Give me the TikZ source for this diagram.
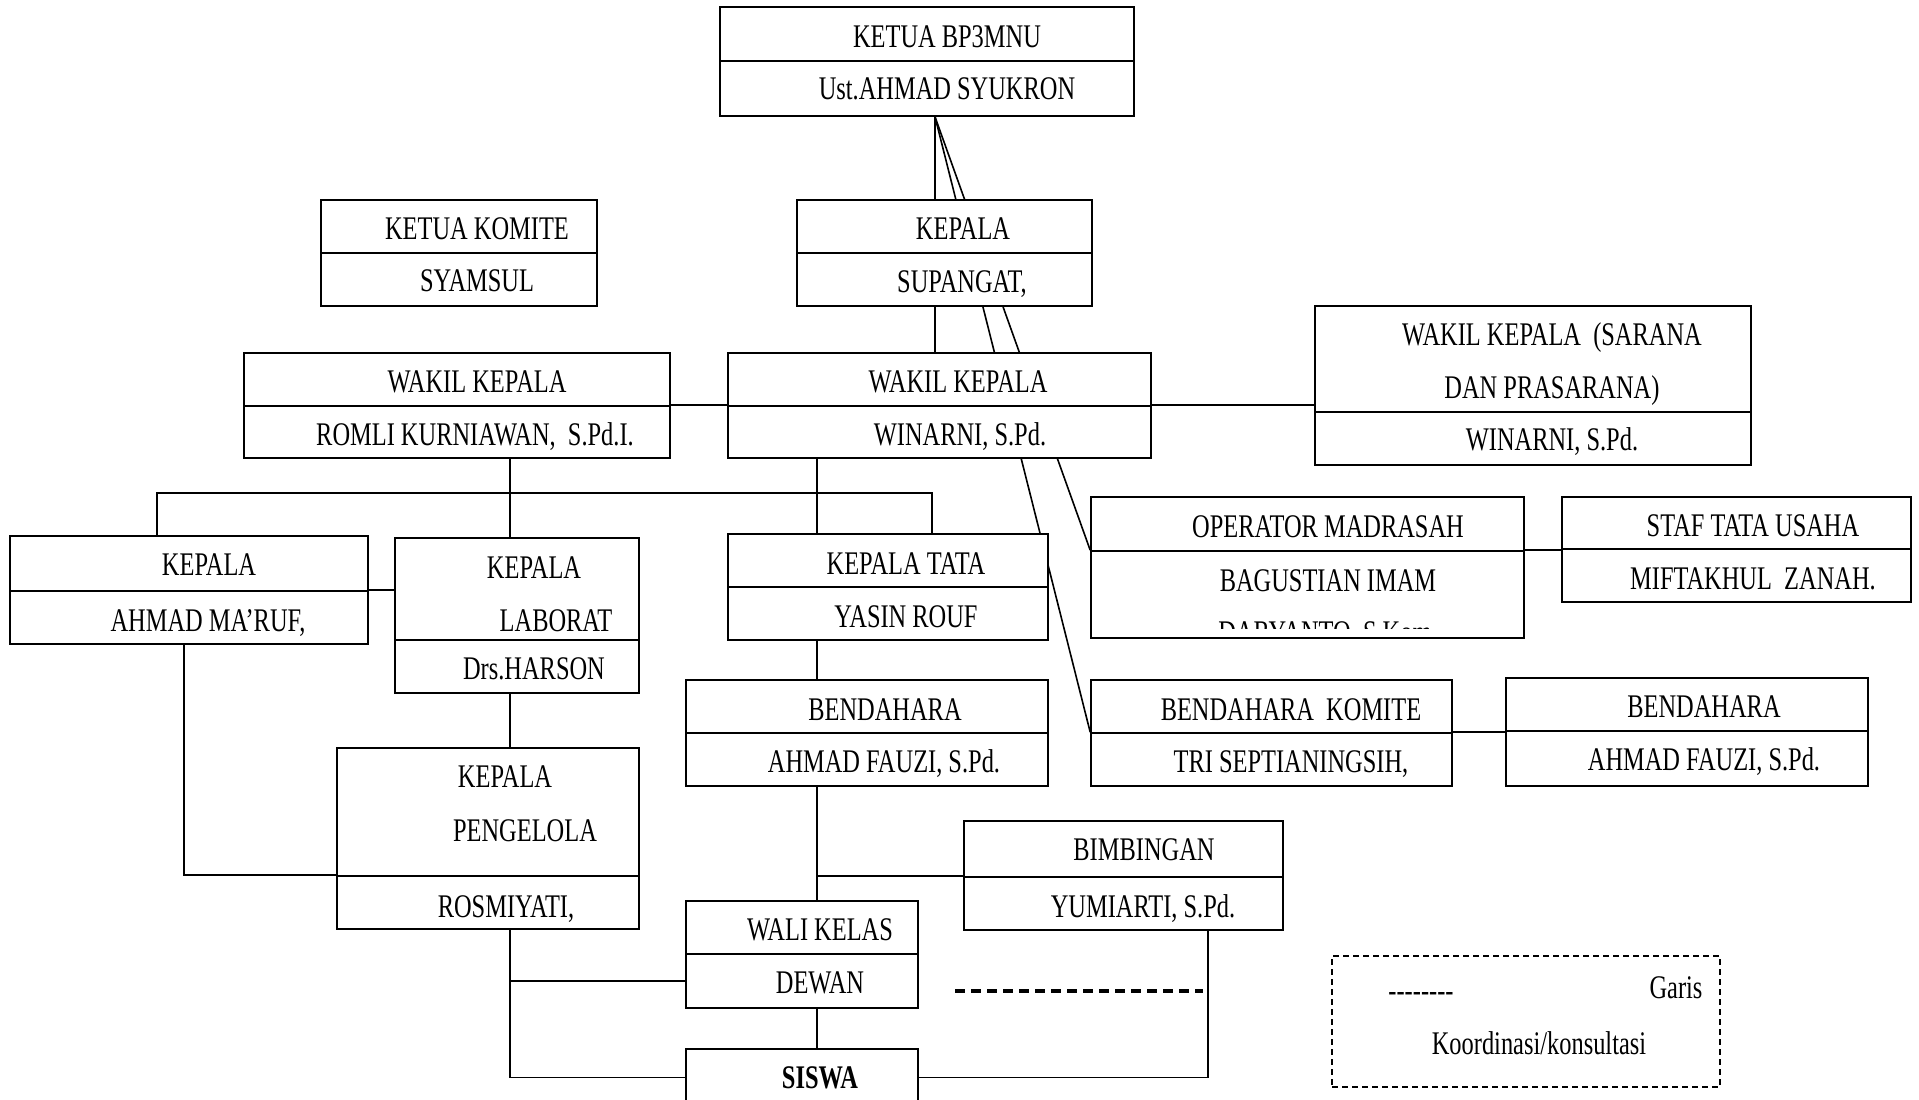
\documentclass[tikz,border=0pt]{standalone}
\usepackage{fontspec}
\setmainfont{Liberation Serif}[FakeStretch=0.74]
\usetikzlibrary{fit,backgrounds}

% one framed cell of a box, by its corners
\newcommand{\cell}[5]{\node[cell,fit={(#2,#3) (#4,#5)}] (#1) {};}

\begin{document}
\begin{tikzpicture}[x=0.5pt,y=-0.5pt,
  cell/.style={draw,fill=white,line width=0.8pt,inner sep=0pt},
  lbl/.style={inner sep=0pt,text height=11pt,text depth=0pt,font=\fontsize{16.5}{19}\selectfont},
  conn/.style={line width=0.8pt}]
\useasboundingbox (0,0) rectangle (1919,1099);

% boxes
\cell{bp3-t}{720}{7}{1134}{61}
\cell{bp3-b}{720}{61}{1134}{116}
\cell{komite-t}{321}{200}{597}{253}
\cell{komite-b}{321}{253}{597}{306}
\cell{kepala-t}{797}{200}{1092}{253}
\cell{kepala-b}{797}{253}{1092}{306}
\cell{wakkiri-t}{244}{353}{670}{406}
\cell{wakkiri-b}{244}{406}{670}{458}
\cell{wakil-t}{728}{353}{1151}{406}
\cell{wakil-b}{728}{406}{1151}{458}
\cell{sarana-t}{1315}{306}{1751}{412}
\cell{sarana-b}{1315}{412}{1751}{465}
\cell{maruf-t}{10}{536}{368}{591}
\cell{maruf-b}{10}{591}{368}{644}
\cell{lab-t}{395}{538}{639}{640}
\cell{lab-b}{395}{640}{639}{693}
\cell{tata-t}{728}{534}{1048}{587}
\cell{tata-b}{728}{587}{1048}{640}
\cell{operator-t}{1091}{497}{1524}{551}
\cell{operator-b}{1091}{551}{1524}{638}
\cell{staf-t}{1562}{497}{1911}{549}
\cell{staf-b}{1562}{549}{1911}{602}
\cell{bendahara-t}{686}{680}{1048}{733}
\cell{bendahara-b}{686}{733}{1048}{786}
\cell{bkomite-t}{1091}{680}{1452}{733}
\cell{bkomite-b}{1091}{733}{1452}{786}
\cell{bendkanan-t}{1506}{678}{1868}{731}
\cell{bendkanan-b}{1506}{731}{1868}{786}
\cell{pengelola-t}{337}{748}{639}{876}
\cell{pengelola-b}{337}{876}{639}{929}
\cell{bimbingan-t}{964}{821}{1283}{877}
\cell{bimbingan-b}{964}{877}{1283}{930}
\cell{wali-t}{686}{901}{918}{954}
\cell{wali-b}{686}{954}{918}{1008}
\cell{siswa}{686}{1049}{918}{1106}

% texts
\node[lbl] (t-bp3) at (947,36) {KETUA BP3MNU};
\node[lbl] (t-syukron) at (947,88) {Ust.AHMAD SYUKRON};
\node[lbl] (t-komite) at (477,228) {KETUA KOMITE};
\node[lbl] (t-syamsul) at (477,280) {SYAMSUL};
\node[lbl] (t-kepala) at (963,228) {KEPALA};
\node[lbl] (t-supangat) at (962,281) {SUPANGAT,};
\node[lbl] (t-wakkiri) at (477,381) {WAKIL KEPALA};
\node[lbl] (t-romli) at (475,434) {ROMLI KURNIAWAN,~ S.Pd.I.};
\node[lbl] (t-wakil) at (958,381) {WAKIL KEPALA};
\node[lbl] (t-winarni) at (960,434) {WINARNI, S.Pd.};
\node[lbl] (t-sarana1) at (1552,334) {WAKIL KEPALA~ (SARANA};
\node[lbl] (t-sarana2) at (1552,387) {DAN PRASARANA)};
\node[lbl] (t-winarni2) at (1552,439) {WINARNI, S.Pd.};
\node[lbl] (t-maruf1) at (209,564) {KEPALA};
\node[lbl] (t-maruf2) at (208,620) {AHMAD MA'RUF,};
\node[lbl] (t-lab1) at (534,567) {KEPALA};
\node[lbl] (t-lab2) at (556,620) {LABORAT};
\node[lbl] (t-harson) at (534,668) {Drs.HARSON};
\node[lbl] (t-tata) at (906,563) {KEPALA TATA};
\node[lbl] (t-yasin) at (906,616) {YASIN ROUF};
\node[lbl] (t-operator) at (1328,526) {OPERATOR MADRASAH};
\node[lbl] (t-bagus) at (1328,580) {BAGUSTIAN IMAM};
\begin{scope}
\clip (1091,600) rectangle (1524,628);
\node[lbl] (t-daryanto) at (1328,632) {DARYANTO, S.Kom.};
\end{scope}
\node[lbl] (t-staf) at (1753,525) {STAF TATA USAHA};
\node[lbl] (t-miftakhul) at (1753,578) {MIFTAKHUL~ ZANAH.};
\node[lbl] (t-bend) at (885,709) {BENDAHARA};
\node[lbl] (t-fauzi) at (884,761) {AHMAD FAUZI, S.Pd.};
\node[lbl] (t-bkomite) at (1291,709) {BENDAHARA~ KOMITE};
\node[lbl] (t-tri) at (1291,761) {TRI SEPTIANINGSIH,};
\node[lbl] (t-bendkanan) at (1704,706) {BENDAHARA};
\node[lbl] (t-fauzi2) at (1704,759) {AHMAD FAUZI, S.Pd.};
\node[lbl] (t-peng1) at (505,776) {KEPALA};
\node[lbl] (t-peng2) at (525,830) {PENGELOLA};
\node[lbl] (t-rosmiyati) at (506,906) {ROSMIYATI,};
\node[lbl] (t-bimbingan) at (1144,849) {BIMBINGAN};
\node[lbl] (t-yumiarti) at (1143,906) {YUMIARTI, S.Pd.};
\node[lbl] (t-wali) at (820,929) {WALI KELAS};
\node[lbl] (t-dewan) at (820,982) {DEWAN};
\node[lbl,font=\fontsize{16.5}{19}\selectfont\bfseries] (t-siswa) at (820,1077) {SISWA};

% legend
\node[draw,dash pattern=on 3pt off 2pt,line width=0.7pt,inner sep=0pt,fit={(1332,956) (1720,1087)}] (legend) {};
\node[lbl] (t-dash) at (1421,990) {{-}{-}{-}{-}{-}{-}{-}{-}};
\node[lbl] (t-garis) at (1676,987) {Garis};
\node[lbl] (t-koord) at (1539,1043) {Koordinasi/konsultasi};
\coordinate (dl1) at (955,991);
\coordinate (dl2) at (1203,991);
\draw[line width=2pt,dash pattern=on 5pt off 3pt] (dl1) -- (dl2);

% connectors
\coordinate (spine) at (935,0);
\coordinate (ccol) at (817,0);
\coordinate (lcol) at (510,0);
\coordinate (mcol) at (184,0);
\coordinate (rcol) at (1208,0);
\coordinate (busl) at (157,493);
\coordinate (busr) at (932,493);
\begin{scope}[on background layer]
\fill[white] (0,0) rectangle (1919,1099);
\draw[conn] (bp3-b.south -| spine) -- (wakil-t.north -| spine);
\draw[conn] (bp3-b.south -| spine) -- (operator-b.north west);
\draw[conn] (bp3-b.south -| spine) -- (bkomite-b.north west);
\draw[conn] (wakkiri-b.north east) -- (wakil-b.north west);
\draw[conn] (wakil-b.north east) -- (wakil-b.north east -| sarana-b.west);
\draw[conn] (maruf-t.north -| busl) -- (busl) -- (busr) -- (tata-t.north -| busr);
\draw[conn] (wakkiri-b.south -| lcol) |- (siswa.west);
\draw[conn] (wali-b.west -| lcol) -- (wali-b.west);
\draw[conn] (wakil-b.south -| ccol) -- (siswa.north -| ccol);
\draw[conn] (bimbingan-b.north west -| ccol) -- (bimbingan-b.north west);
\draw[conn] (bimbingan-b.south -| rcol) |- (siswa.east);
\draw[conn] (maruf-b.south -| mcol) |- (pengelola-b.north west);
\draw[conn] (maruf-b.north east) -- (maruf-b.north east -| lab-t.west);
\draw[conn] (operator-b.north east) -- (operator-b.north east -| staf-b.west);
\draw[conn] (bkomite-b.north east) -- (bkomite-b.north east -| bendkanan-b.west);
\end{scope}

\end{tikzpicture}
\end{document}
